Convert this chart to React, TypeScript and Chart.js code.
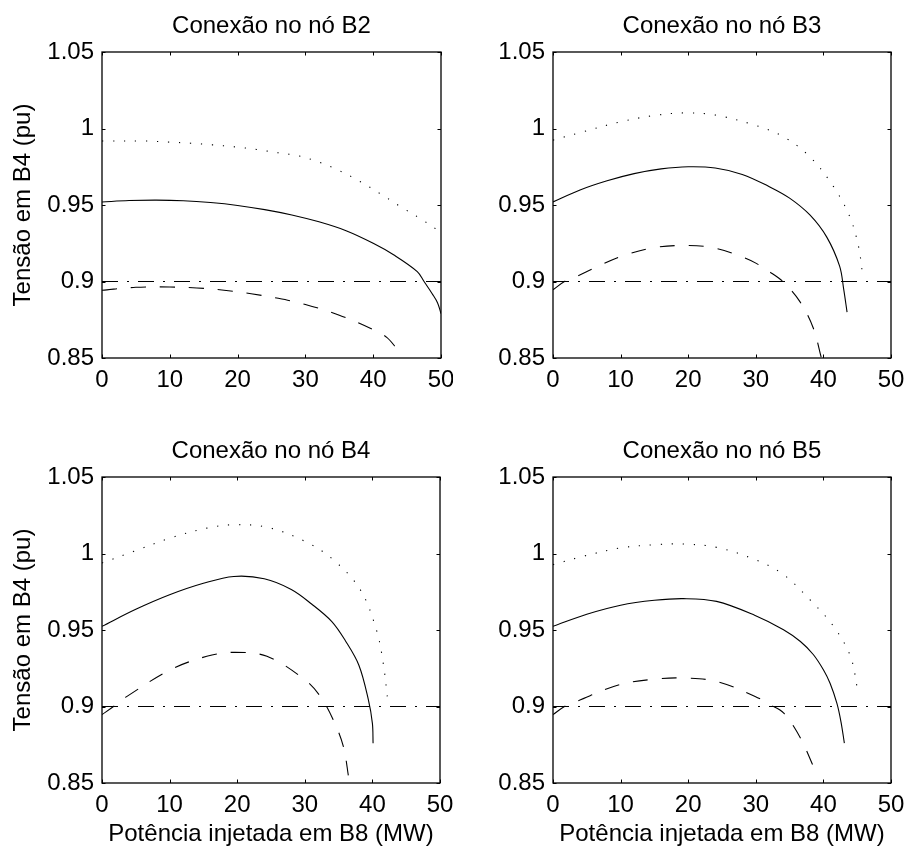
import React, { useEffect, useRef } from 'react';
import { Chart, registerables } from 'chart.js';

Chart.register(...registerables);

// ---------- axes / labels ----------
const xTicks = [0, 10, 20, 30, 40, 50];
const xTickLabels = ['0', '10', '20', '30', '40', '50'];
const yTicks = [0.85, 0.9, 0.95, 1, 1.05];
const yTickLabels = ['0.85', '0.9', '0.95', '1', '1.05'];
const panelTitles = ['Conexão no nó B2', 'Conexão no nó B3', 'Conexão no nó B4', 'Conexão no nó B5'];
const xAxisTitle = 'Potência injetada em B8 (MW)';
const yAxisTitle = 'Tensão em B4 (pu)';

// limit line (dash-dot)
const limitX = [0, 50];
const limitY = [0.9, 0.9];

// ---------- B2 ----------
const b2SolidX = [0, 4, 8, 12, 16, 20, 24, 28, 32, 36, 40, 43, 46.5, 47.5, 48.7, 49.5, 50];
const b2SolidY = [0.952, 0.9529, 0.9532, 0.9528, 0.9516, 0.9497, 0.947, 0.9435, 0.939, 0.9332, 0.925, 0.9175, 0.9065, 0.9, 0.892, 0.886, 0.879];
const b2DotX = [0, 6.6, 9.9, 13.1, 16.3, 19.6, 22.8, 26, 29.1, 32, 35, 38, 41, 44, 47, 49.2];
const b2DotY = [0.9918, 0.9918, 0.9911, 0.9904, 0.9893, 0.988, 0.9863, 0.9841, 0.982, 0.978, 0.9725, 0.9655, 0.9575, 0.949, 0.941, 0.9345];
const b2DashX = [0, 5, 10, 14, 18, 22, 26, 30, 35, 40, 42, 43.6];
const b2DashY = [0.8943, 0.8962, 0.8964, 0.8958, 0.8943, 0.892, 0.889, 0.885, 0.878, 0.8685, 0.8635, 0.8555];

// ---------- B3 ----------
const b3SolidX = [0, 4, 8, 12, 16, 20, 24, 28, 32, 35, 38, 40.5, 42.4, 43, 43.5];
const b3SolidY = [0.952, 0.9598, 0.9658, 0.9705, 0.9736, 0.975, 0.9742, 0.97, 0.962, 0.9545, 0.9435, 0.929, 0.91, 0.895, 0.88];
const b3DotX = [0, 4.4, 9.9, 15, 19.5, 24, 30, 34.1, 38, 41.5, 43.9, 45.2, 45.8];
const b3DotY = [0.9924, 0.9978, 1.0043, 1.0085, 1.0102, 1.0088, 1.002, 0.9946, 0.9815, 0.962, 0.9424, 0.9228, 0.9043];
const b3DashX = [0, 1.7, 3.5, 6, 10, 15, 20, 24, 28, 30, 32, 34, 36.5, 38.5, 39.7];
const b3DashY = [0.8946, 0.9, 0.9033, 0.9085, 0.9163, 0.9222, 0.9235, 0.9218, 0.916, 0.912, 0.9065, 0.9, 0.887, 0.8696, 0.85];

// ---------- B4 ----------
const b4SolidX = [0, 5, 10, 15, 19.5, 24, 28, 31, 34, 36, 38, 39.4, 40, 40.1];
const b4SolidY = [0.9524, 0.9635, 0.973, 0.9805, 0.985, 0.9835, 0.9765, 0.967, 0.9555, 0.943, 0.927, 0.9045, 0.889, 0.876];
const b4DotX = [0, 4.7, 10.1, 15.5, 19.5, 24.4, 30, 34.2, 38.2, 40.6, 41.6, 42.2];
const b4DotY = [0.9938, 1.0014, 1.0101, 1.0166, 1.0188, 1.0172, 1.008, 0.996, 0.9764, 0.95, 0.9284, 0.9066];
const b4DashX = [0, 1.7, 3.7, 10.1, 15.5, 19.5, 24.4, 30, 32.3, 34.2, 35.7, 36.5];
const b4DashY = [0.8947, 0.9, 0.9066, 0.924, 0.9328, 0.9354, 0.9328, 0.9175, 0.9066, 0.8914, 0.874, 0.8533];

// ---------- B5 ----------
const b5SolidX = [0, 5, 10, 15, 19.3, 24.2, 29.9, 34.1, 36.6, 38.5, 40, 41, 42, 42.6, 43.1];
const b5SolidY = [0.9524, 0.9603, 0.9662, 0.9694, 0.9705, 0.9687, 0.9595, 0.9502, 0.9425, 0.934, 0.924, 0.915, 0.902, 0.89, 0.8761];
const b5DotX = [0, 4.4, 9.9, 15.3, 19.3, 24.2, 29.9, 34.1, 38, 41.5, 44, 45.1];
const b5DotY = [0.9927, 0.9981, 1.0036, 1.0058, 1.0062, 1.004, 0.996, 0.9862, 0.9698, 0.9524, 0.9328, 0.9099];
const b5DashX = [0, 1.7, 3.5, 9.9, 15.3, 19.3, 24.2, 29.9, 32.1, 34.1, 36.6, 38.7];
const b5DashY = [0.8947, 0.9, 0.9034, 0.9143, 0.918, 0.9186, 0.9164, 0.9066, 0.9012, 0.8958, 0.8794, 0.859];

const FONT = '"Liberation Sans", Arial, Helvetica, sans-serif';
const FONT_SIZE = 24;

type Series = [number[], number[]];
interface Panel {
  title: string;
  solid: Series;
  dot: Series;
  dash: Series;
  cx: number; cy: number; cw: number; ch: number;
  yW: number; padTop: number; padRight: number; xH: number;
  showY: boolean; showX: boolean;
}

const panels: Panel[] = [
  { title: panelTitles[0], solid: [b2SolidX, b2SolidY], dot: [b2DotX, b2DotY], dash: [b2DashX, b2DashY],
    cx: 0, cy: 0, cw: 453, ch: 420, yW: 102, padTop: 52, padRight: 12, xH: 62, showY: true, showX: false },
  { title: panelTitles[1], solid: [b3SolidX, b3SolidY], dot: [b3DotX, b3DotY], dash: [b3DashX, b3DashY],
    cx: 453, cy: 0, cw: 454, ch: 420, yW: 100, padTop: 52, padRight: 16, xH: 62, showY: false, showX: false },
  { title: panelTitles[2], solid: [b4SolidX, b4SolidY], dot: [b4DotX, b4DotY], dash: [b4DashX, b4DashY],
    cx: 0, cy: 420, cw: 453, ch: 426, yW: 102, padTop: 57, padRight: 13, xH: 63, showY: true, showX: true },
  { title: panelTitles[3], solid: [b5SolidX, b5SolidY], dot: [b5DotX, b5DotY], dash: [b5DashX, b5DashY],
    cx: 453, cy: 420, cw: 454, ch: 426, yW: 100, padTop: 57, padRight: 16, xH: 63, showY: false, showX: true },
];

const toPts = (s: Series) => s[0].map((x, i) => ({ x, y: s[1][i] }));

const TICK_LEN = 3.5;

const framePlugin = {
  id: 'frame',
  afterDraw(chart: any, _args: any, opts: any) {
    const ctx = chart.ctx as CanvasRenderingContext2D;
    const a = chart.chartArea;
    const xs = chart.scales.x;
    const ys = chart.scales.y;
    ctx.save();
    ctx.strokeStyle = '#000';
    ctx.lineWidth = 1.3;
    ctx.setLineDash([]);
    ctx.strokeRect(a.left, a.top, a.right - a.left, a.bottom - a.top);
    ctx.lineWidth = 1;
    ctx.beginPath();
    for (const t of xs.ticks) {
      const px = Math.round(xs.getPixelForValue(t.value)) + 0.5;
      ctx.moveTo(px, a.bottom); ctx.lineTo(px, a.bottom - TICK_LEN);
      ctx.moveTo(px, a.top); ctx.lineTo(px, a.top + TICK_LEN);
    }
    for (const t of ys.ticks) {
      const py = Math.round(ys.getPixelForValue(t.value)) + 0.5;
      ctx.moveTo(a.left, py); ctx.lineTo(a.left + TICK_LEN, py);
      ctx.moveTo(a.right, py); ctx.lineTo(a.right - TICK_LEN, py);
    }
    ctx.stroke();

    ctx.fillStyle = '#000';
    ctx.font = `${FONT_SIZE}px ${FONT}`;
    ctx.textAlign = 'center';
    ctx.textBaseline = 'alphabetic';
    ctx.fillText(opts.title, (a.left + a.right) / 2, a.top - 19);
    if (opts.showX) {
      ctx.fillText(xAxisTitle, (a.left + a.right) / 2, a.bottom + 58);
    }
    if (opts.showY) {
      ctx.save();
      ctx.translate(a.left - 72, (a.top + a.bottom) / 2);
      ctx.rotate(-Math.PI / 2);
      ctx.fillText(yAxisTitle, 0, 0);
      ctx.restore();
    }
    ctx.restore();
  },
};

function makeConfig(p: Panel): any {
  const line = (s: Series, dash: number[]) => ({
    data: toPts(s),
    borderColor: '#000',
    borderWidth: 1.1,
    borderDash: dash,
    borderCapStyle: 'butt',
    pointRadius: 0,
    fill: false,
    cubicInterpolationMode: 'default',
    tension: 0.35,
  });
  return {
    type: 'line',
    data: {
      datasets: [
        line(p.solid, []),
        line(p.dot, [1.2, 9.8]),
        line(p.dash, [15, 14]),
        { ...line([limitX, limitY], [16, 9, 2, 9]), tension: 0 },
      ],
    },
    options: {
      animation: false,
      responsive: false,
      devicePixelRatio: 1,
      events: [],
      layout: { padding: { left: 0, top: p.padTop, right: p.padRight, bottom: 0 } },
      plugins: {
        legend: { display: false },
        tooltip: { enabled: false },
        title: { display: false },
        frame: { title: p.title, showX: p.showX, showY: p.showY },
      },
      scales: {
        x: {
          type: 'linear',
          min: 0,
          max: 50,
          afterBuildTicks: (s: any) => { s.ticks = xTicks.map((v) => ({ value: v })); },
          afterFit: (s: any) => { s.height = p.xH; s.paddingLeft = 0; s.paddingRight = 0; },
          ticks: {
            callback: (_v: any, i: number) => xTickLabels[i],
            font: { size: FONT_SIZE, family: FONT },
            color: '#000',
            padding: 7.5,
            maxRotation: 0,
            autoSkip: false,
          },
          grid: { display: false, drawTicks: false },
          border: { display: false },
        },
        y: {
          type: 'linear',
          min: 0.85,
          max: 1.05,
          afterBuildTicks: (s: any) => { s.ticks = yTicks.map((v) => ({ value: v })); },
          afterFit: (s: any) => { s.width = p.yW; s.paddingTop = 0; s.paddingBottom = 0; },
          ticks: {
            callback: (_v: any, i: number) => yTickLabels[i],
            font: { size: FONT_SIZE, family: FONT },
            color: '#000',
            padding: 8,
            autoSkip: false,
          },
          grid: { display: false, drawTicks: false },
          border: { display: false },
        },
      },
    },
    plugins: [framePlugin],
  };
}

export default function App() {
  const canvases = useRef<(HTMLCanvasElement | null)[]>([]);
  useEffect(() => {
    document.body.style.margin = '0';
    const charts = panels.map((p, i) => new Chart(canvases.current[i] as HTMLCanvasElement, makeConfig(p)));
    return () => charts.forEach((c) => c.destroy());
  }, []);
  return (
    <div style={{ position: 'absolute', left: 0, top: 0, width: 907, height: 846, background: '#fff' }}>
      {panels.map((p, i) => (
        <canvas
          key={i}
          ref={(el) => { canvases.current[i] = el; }}
          width={p.cw}
          height={p.ch}
          style={{ position: 'absolute', left: p.cx, top: p.cy, width: p.cw, height: p.ch, display: 'block' }}
        />
      ))}
    </div>
  );
}
